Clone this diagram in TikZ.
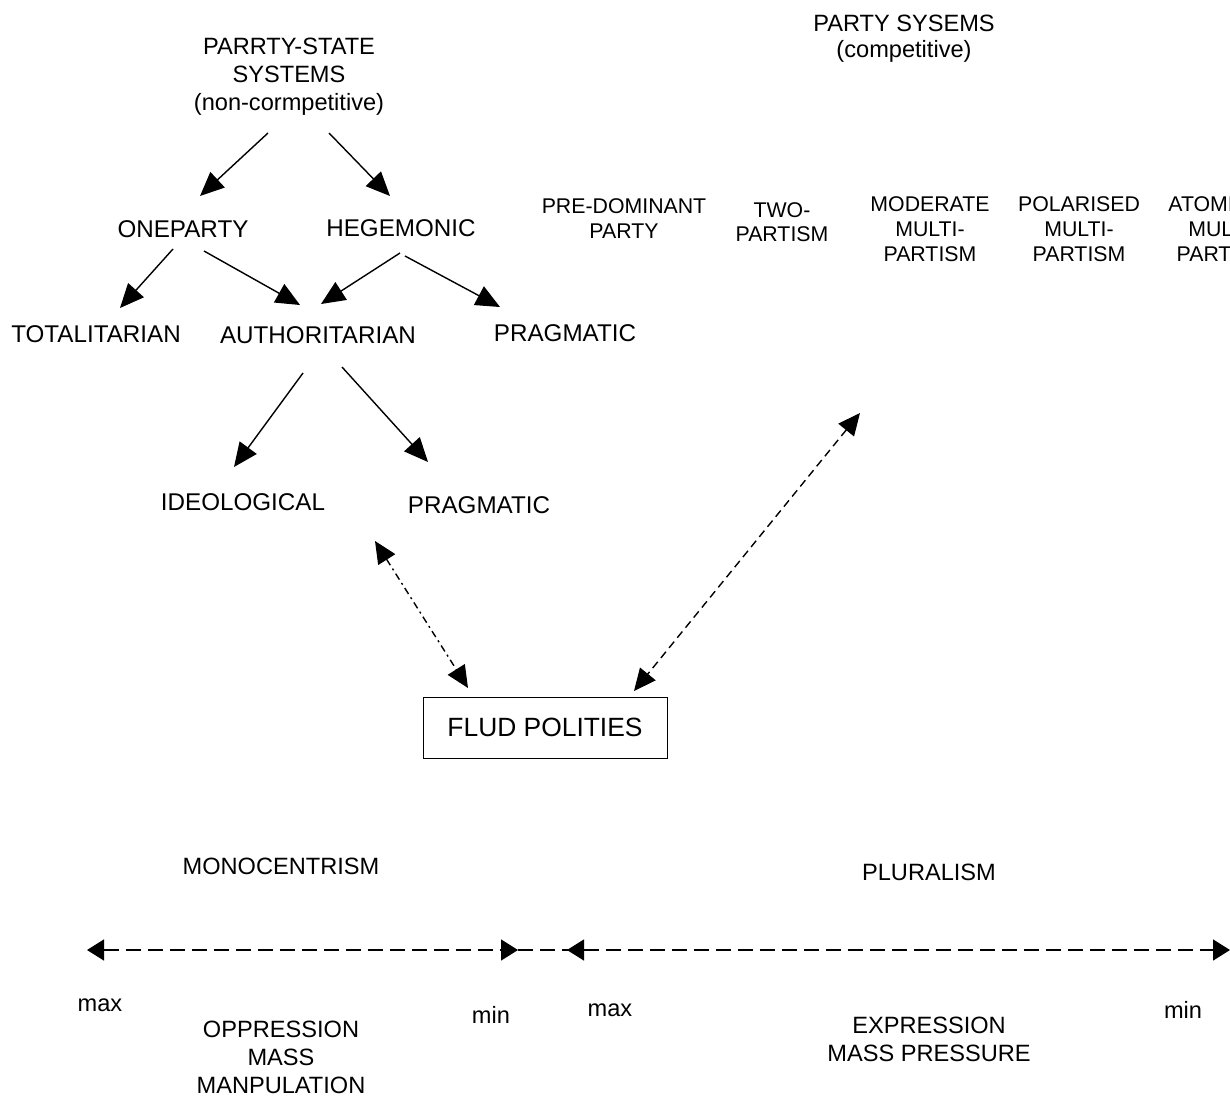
\documentclass[tikz,border=0pt]{standalone}
\usepackage{fontspec}
\setmainfont{Liberation Sans}
\usetikzlibrary{arrows.meta}
\begin{document}
\begin{tikzpicture}[x=1pt,y=-1pt,
  lbl/.style={inner sep=0pt,align=center,font=\fontsize{24.2}{28}\selectfont},
  txt/.style={inner sep=0pt,align=center,font=\fontsize{23.6}{28}\selectfont},
  kind/.style={inner sep=0pt,align=center,font=\fontsize{21.3}{25}\selectfont},
  arr/.style={line width=1.4pt,-{Triangle[length=24pt,width=21pt]}},
  dbl/.style={line width=1.4pt,{Triangle[length=22pt,width=20pt]}-{Triangle[length=22pt,width=20pt]}},
  scaleline/.style={line width=1.4pt,dash pattern=on 15pt off 7pt},
  bothends/.style={{Triangle[length=17pt,width=21pt]}-{Triangle[length=17pt,width=21pt]}}]
\useasboundingbox (0,0) rectangle (1230,1099);
\fill[white] (0,0) rectangle (1230,1099);

% non-competitive side
\node[txt] (ps) at (289,77) {PARRTY-STATE\\SYSTEMS\\(non-cormpetitive)};
\node[lbl] (one) at (183,229) {ONEPARTY};
\node[lbl] (heg) at (401,228) {HEGEMONIC};
\node[lbl] (tot) at (96,334) {TOTALITARIAN};
\node[lbl] (aut) at (318,335) {AUTHORITARIAN};
\node[lbl] (prag1) at (565,333) {PRAGMATIC};
\node[lbl] (ideo) at (243,502) {IDEOLOGICAL};
\node[lbl] (prag2) at (479,505) {PRAGMATIC};

% competitive side
\node[txt,font=\fontsize{23.6}{26}\selectfont] (cps) at (904,39) {PARTY SYSEMS\\(competitive)};
\node[kind] (pre) at (624,219) {PRE-DOMINANT\\PARTY};
\node[kind,font=\fontsize{21.3}{24}\selectfont] (two) at (782,222) {TWO-\\PARTISM};
\node[kind] (mod) at (930,229) {MODERATE\\MULTI-\\PARTISM};
\node[kind] (pol) at (1079,229) {POLARISED\\MULTI-\\PARTISM};
\node[kind] (atom) at (1223,229) {ATOMISED\\MULTI-\\PARTISM};

% fluid polities
\node[draw,line width=0.9pt,minimum width=244pt,minimum height=61pt,inner sep=0pt,
      font=\fontsize{26.4}{30}\selectfont] (flud) at (545,727.5) {FLUD POLITIES};

% arrow end points
\coordinate (a1s) at (268,133); \coordinate (a1e) at (200,196);
\coordinate (a2s) at (329,133); \coordinate (a2e) at (390,196);
\coordinate (a3s) at (173,249); \coordinate (a3e) at (120,308);
\coordinate (a4s) at (204,251); \coordinate (a4e) at (300,305);
\coordinate (a5s) at (400,253); \coordinate (a5e) at (321,304);
\coordinate (a6s) at (405,256); \coordinate (a6e) at (500,307);
\coordinate (a7s) at (303,373); \coordinate (a7e) at (234,467);
\coordinate (a8s) at (342,367); \coordinate (a8e) at (428,462);
\coordinate (f1) at (375,541); \coordinate (f2) at (468,688);
\coordinate (f3) at (860,413); \coordinate (f4) at (634,691);

\draw[arr] (a1s) -- (a1e);
\draw[arr] (a2s) -- (a2e);
\draw[arr] (a3s) -- (a3e);
\draw[arr] (a4s) -- (a4e);
\draw[arr] (a5s) -- (a5e);
\draw[arr] (a6s) -- (a6e);
\draw[arr] (a7s) -- (a7e);
\draw[arr] (a8s) -- (a8e);
\draw[dbl,dash pattern=on 7pt off 4pt on 2pt off 4pt] (f1) -- (f2);
\draw[dbl,dash pattern=on 8pt off 5pt] (f3) -- (f4);

% scale at the bottom
\node[txt] (mono) at (281,866) {MONOCENTRISM};
\node[txt] (plur) at (929,872) {PLURALISM};
\coordinate (l1) at (87,950); \coordinate (l2) at (518,950);
\coordinate (r1) at (567,950); \coordinate (r2) at (1230,950);
\coordinate (mid) at (600,950);
\draw[scaleline,bothends] (l1) -- (l2);
\draw[scaleline] (l2) -- (mid);
\draw[scaleline,bothends] (r1) -- (r2);

\node[txt] (max1) at (100,1005) {max};
\node[txt] (min1) at (491,1015) {min};
\node[txt] (max2) at (610,1010) {max};
\node[txt] (min2) at (1183,1010) {min};
\node[txt] (opp) at (281,1057) {OPPRESSION\\MASS\\MANPULATION};
\node[txt] (exp) at (929,1039) {EXPRESSION\\MASS PRESSURE};
\end{tikzpicture}
\end{document}
